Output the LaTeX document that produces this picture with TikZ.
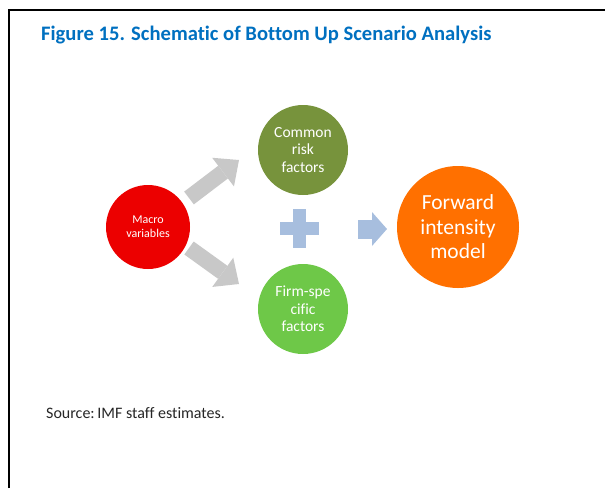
\documentclass[tikz,border=0pt]{standalone}
\usepackage{fontspec}
\setmainfont{Carlito}[Ligatures=NoCommon]
\usetikzlibrary{arrows.meta}
\definecolor{titleblue}{RGB}{0,112,192}
\definecolor{macrored}{RGB}{236,0,0}
\definecolor{darkgreen}{RGB}{119,147,60}
\definecolor{lightgreen}{RGB}{110,200,72}
\definecolor{fwdorange}{RGB}{255,112,0}
\definecolor{arrowgray}{RGB}{200,200,200}
\definecolor{plusblue}{RGB}{167,190,222}
\begin{document}
\begin{tikzpicture}[x=1pt,y=-1pt,
  bubble/.style={circle, inner sep=0pt, text=white, align=center},
  grayarrow/.style={draw=arrowgray, line width=16pt,
    -{Triangle[length=20pt, width=36pt, line width=0pt, fill=arrowgray]}},
  bluearrow/.style={draw=plusblue, line width=19pt,
    -{Triangle[length=15pt, width=34pt, line width=0pt, fill=plusblue]}}]
\useasboundingbox (0,0) rectangle (605,488);
\draw[line width=2pt] (9,488) -- (9,10) -- (605,10);

\node[anchor=base west, text=titleblue, font=\bfseries\fontsize{20.6}{24}\selectfont, inner sep=0pt] (title) at (41,40) {Figure 15. Schematic of Bottom Up Scenario Analysis};

\node[bubble, fill=macrored, minimum size=84pt, font=\fontsize{12}{14}\selectfont] (macro) at (148,227) {Macro\\variables};
\node[bubble, fill=darkgreen, minimum size=90pt, font=\fontsize{15.5}{17.5}\selectfont] (common) at (303,150) {Common\\risk\\factors};
\node[bubble, fill=lightgreen, minimum size=90pt, font=\fontsize{15.5}{17.5}\selectfont] (firm) at (303,309) {Firm-spe\\cific\\factors};
\node[bubble, fill=fwdorange, minimum size=122pt, font=\fontsize{21.5}{24.5}\selectfont] (fwd) at (458,227) {Forward\\intensity\\model};

\coordinate (up0) at (189,198);
\coordinate (up1) at (239,160);
\coordinate (dn0) at (189,248);
\coordinate (dn1) at (239,284);
\draw[grayarrow] (up0) -- (up1);
\draw[grayarrow] (dn0) -- (dn1);

\fill[plusblue] (280,222) rectangle (319,235);
\fill[plusblue] (293,209) rectangle (306,248);

\coordinate (bl0) at (358,229);
\coordinate (bl1) at (387,229);
\draw[bluearrow] (bl0) -- (bl1);

\node[anchor=base west, inner sep=0pt, font=\fontsize{16}{19}\selectfont, text=black!85] (src) at (46,418) {Source:\,IMF staff estimates.};
\end{tikzpicture}
\end{document}
